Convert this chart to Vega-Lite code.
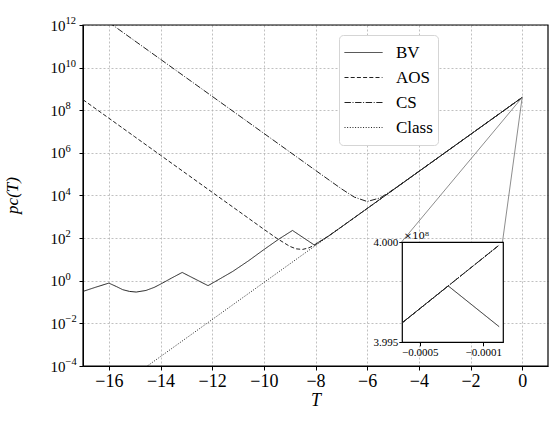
{
  "$schema": "https://vega.github.io/schema/vega-lite/v6.json",
  "width": 465,
  "height": 341,
  "autosize": {"type": "none"},
  "padding": {"left": 83, "top": 25, "right": 11, "bottom": 58},
  "background": "white",
  "config": {
    "view": {"stroke": null},
    "font": "Liberation Serif",
    "axis": {"domainColor": "black", "tickColor": "black", "labelColor": "black", "titleColor": "black", "labelFont": "Liberation Serif", "titleFont": "Liberation Serif", "titleFontWeight": "normal"}
  },
  "datasets": {
    "main": [
      {"series": "BV", "T": -17, "p": 0.316},
      {"series": "BV", "T": -16.5, "p": 0.501},
      {"series": "BV", "T": -16, "p": 0.776},
      {"series": "BV", "T": -15.71, "p": 0.537},
      {"series": "BV", "T": -15.46, "p": 0.38},
      {"series": "BV", "T": -15.2, "p": 0.316},
      {"series": "BV", "T": -14.94, "p": 0.295},
      {"series": "BV", "T": -14.56, "p": 0.351},
      {"series": "BV", "T": -14.24, "p": 0.49},
      {"series": "BV", "T": -13.97, "p": 0.724},
      {"series": "BV", "T": -13.58, "p": 1.318},
      {"series": "BV", "T": -13.16, "p": 2.455},
      {"series": "BV", "T": -12.66, "p": 1.2},
      {"series": "BV", "T": -12.16, "p": 0.589},
      {"series": "BV", "T": -11.9, "p": 0.891},
      {"series": "BV", "T": -11.6, "p": 1.445},
      {"series": "BV", "T": -11.2, "p": 2.754},
      {"series": "BV", "T": -10.6, "p": 8.51},
      {"series": "BV", "T": -10.0, "p": 28.8},
      {"series": "BV", "T": -9.4, "p": 93.3},
      {"series": "BV", "T": -8.89, "p": 229},
      {"series": "BV", "T": -8.05, "p": 47.9},
      {"series": "BV", "T": -7.5, "p": 124},
      {"series": "BV", "T": -7, "p": 333},
      {"series": "BV", "T": -6, "p": 2455},
      {"series": "BV", "T": -4, "p": 134300},
      {"series": "BV", "T": -2, "p": 7330000},
      {"series": "BV", "T": 0, "p": 400000000},
      {"series": "AOS", "T": -17, "p": 313000000},
      {"series": "AOS", "T": -16, "p": 42500000},
      {"series": "AOS", "T": -15, "p": 5740000},
      {"series": "AOS", "T": -14, "p": 776000},
      {"series": "AOS", "T": -13, "p": 105000},
      {"series": "AOS", "T": -12, "p": 14200},
      {"series": "AOS", "T": -11, "p": 1928},
      {"series": "AOS", "T": -10, "p": 261},
      {"series": "AOS", "T": -9.5, "p": 98.1},
      {"series": "AOS", "T": -9, "p": 41.3},
      {"series": "AOS", "T": -8.75, "p": 31.4},
      {"series": "AOS", "T": -8.5, "p": 29.5},
      {"series": "AOS", "T": -8.25, "p": 35.2},
      {"series": "AOS", "T": -8, "p": 49.7},
      {"series": "AOS", "T": -7.5, "p": 124.2},
      {"series": "AOS", "T": -7, "p": 333.3},
      {"series": "AOS", "T": -6, "p": 2455},
      {"series": "AOS", "T": -4, "p": 134300},
      {"series": "AOS", "T": -2, "p": 7330000},
      {"series": "AOS", "T": 0, "p": 400000000},
      {"series": "CS", "T": -17, "p": 9900000000000},
      {"series": "CS", "T": -16, "p": 1340000000000},
      {"series": "CS", "T": -14, "p": 24600000000},
      {"series": "CS", "T": -12, "p": 450000000},
      {"series": "CS", "T": -10, "p": 8240000},
      {"series": "CS", "T": -8, "p": 151000},
      {"series": "CS", "T": -7, "p": 20700},
      {"series": "CS", "T": -6.5, "p": 8420},
      {"series": "CS", "T": -6, "p": 5222},
      {"series": "CS", "T": -5.5, "p": 7699},
      {"series": "CS", "T": -5, "p": 18529},
      {"series": "CS", "T": -4, "p": 134330},
      {"series": "CS", "T": -2, "p": 7330000},
      {"series": "CS", "T": 0, "p": 400000000},
      {"series": "Class", "T": -17, "p": 0.000000685},
      {"series": "Class", "T": -14, "p": 0.000277},
      {"series": "Class", "T": -12, "p": 0.0151},
      {"series": "Class", "T": -10, "p": 0.824},
      {"series": "Class", "T": -8, "p": 45.0},
      {"series": "Class", "T": -6, "p": 2455},
      {"series": "Class", "T": -4, "p": 134300},
      {"series": "Class", "T": -2, "p": 7330000},
      {"series": "Class", "T": 0, "p": 400000000}
    ],
    "connectors": [
      {"conn": "a", "T": 0, "p": 400000000},
      {"conn": "a", "T": -4.67, "p": 65.6},
      {"conn": "b", "T": 0, "p": 400000000},
      {"conn": "b", "T": -0.762, "p": 65.6}
    ],
    "expo": [
      {"v": 0.0001, "e": "−4"},
      {"v": 0.01, "e": "−2"},
      {"v": 1, "e": "0"},
      {"v": 100, "e": "2"},
      {"v": 10000, "e": "4"},
      {"v": 1000000, "e": "6"},
      {"v": 100000000, "e": "8"},
      {"v": 10000000000, "e": "10"},
      {"v": 1000000000000, "e": "12"}
    ],
    "inset": [
      {"series": "BV", "T": -0.00061, "p": 399598000},
      {"series": "BV", "T": -0.000321, "p": 399782000},
      {"series": "BV", "T": 0, "p": 399578000},
      {"series": "AOS", "T": -0.00061, "p": 399598000},
      {"series": "AOS", "T": 0, "p": 399986000},
      {"series": "CS", "T": -0.00061, "p": 399598000},
      {"series": "CS", "T": 0, "p": 399986000},
      {"series": "Class", "T": -0.00061, "p": 399598000},
      {"series": "Class", "T": 0, "p": 399986000}
    ]
  },
  "layer": [
    {
      "layer": [
        {
          "data": {"name": "main"},
          "mark": {"type": "line", "clip": true, "strokeWidth": 1, "color": "#222"},
          "encoding": {
            "x": {"field": "T", "type": "quantitative",
              "scale": {"domain": [-17, 1], "nice": false, "zero": false},
              "axis": {"values": [-16, -14, -12, -10, -8, -6, -4, -2, 0], "orient": "bottom", "labelFontSize": 18, "tickSize": 4, "labelPadding": 2, "grid": true, "gridColor": "#b0b0b0", "gridDash": [2, 2], "gridWidth": 0.8, "title": "T", "titleFontStyle": "italic", "titleFontSize": 18, "titlePadding": 1}},
            "y": {"field": "p", "type": "quantitative",
              "scale": {"type": "log", "domain": [0.0001, 1000000000000], "nice": false},
              "axis": {"values": [0.0001, 0.01, 1, 100, 10000, 1000000, 100000000, 10000000000, 1000000000000], "orient": "left",
                "labelExpr": "'10'",
                "labelFontSize": 15, "tickSize": 4, "labelPadding": 14, "grid": true, "gridColor": "#b0b0b0", "gridDash": [2, 2], "gridWidth": 0.8,
                "title": "pc(T)", "titleFontStyle": "italic", "titleFontSize": 17, "titleX": -71, "titleY": 170, "titleAngle": -90, "titleBaseline": "middle", "titleAlign": "center"}},
            "strokeDash": {"field": "series", "type": "nominal",
              "scale": {"domain": ["BV", "AOS", "CS", "Class"], "range": [[1, 0], [4, 2.2], [6.4, 1.6, 1, 1.6], [1, 1.65]]},
              "legend": {"title": null, "orient": "none", "legendX": 256, "legendY": 10, "symbolType": "stroke", "symbolSize": 1444, "symbolStrokeWidth": 1, "symbolStrokeColor": "#222", "labelFontSize": 17, "labelFont": "Liberation Serif", "labelColor": "black", "labelOffset": 13, "clipHeight": 25, "rowPadding": 0, "padding": 5, "fillColor": "white", "strokeColor": "#d5d5d5", "cornerRadius": 4}}
          }
        },
        {
          "data": {"name": "connectors"},
          "mark": {"type": "line", "strokeWidth": 0.9, "color": "#808080"},
          "encoding": {
            "x": {"field": "T", "type": "quantitative"},
            "y": {"field": "p", "type": "quantitative"},
            "detail": {"field": "conn", "type": "nominal"}
          }
        },
        {
          "data": {"name": "expo"},
          "mark": {"type": "text", "align": "left", "baseline": "middle", "dx": -17.5, "dy": -4, "fontSize": 10.5, "font": "Liberation Serif", "color": "black", "clip": false},
          "encoding": {
            "x": {"datum": -17, "type": "quantitative"},
            "y": {"field": "v", "type": "quantitative"},
            "text": {"field": "e", "type": "nominal"}
          }
        },
        {
          "data": {"values": [{}]},
          "mark": {"type": "rect", "fill": null, "stroke": "black", "strokeWidth": 1.2},
          "encoding": {
            "x": {"datum": -17, "type": "quantitative"},
            "x2": {"datum": 1},
            "y": {"datum": 0.0001, "type": "quantitative"},
            "y2": {"datum": 1000000000000}
          }
        }
      ]
    },
    {
      "layer": [
        {
          "data": {"values": [{}]},
          "mark": {"type": "rect", "fill": "white", "stroke": "black", "strokeWidth": 1.2},
          "encoding": {
            "x": {"datum": -0.00061, "type": "quantitative",
              "scale": {"domain": [-0.00061, 0.000026], "range": [319.3, 420.3], "nice": false, "zero": false},
              "axis": {"values": [-0.0005, -0.0001], "format": ".4f", "orient": "bottom", "offset": -23.7, "domain": false, "grid": false, "tickSize": 3.5, "labelFontSize": 11, "labelPadding": 1, "title": null, "zindex": 1}},
            "x2": {"datum": 0.000026},
            "y": {"datum": 399500000, "type": "quantitative",
              "scale": {"domain": [399500000, 400000000], "range": [317.3, 217.3], "nice": false, "zero": false},
              "axis": {"values": [399500000, 400000000], "labelExpr": "format(datum.value / 1e8, '.3f')", "orient": "left", "offset": -319.3, "domain": false, "grid": false, "tickSize": 3.5, "labelFontSize": 11, "labelPadding": 1, "title": "×10⁸", "titleFont": "DejaVu Serif", "titleAngle": 0, "titleX": 1, "titleY": 213, "titleAlign": "left", "titleBaseline": "alphabetic", "titleFontSize": 10, "zindex": 1}},
            "y2": {"datum": 400000000}
          }
        },
        {
          "data": {"name": "inset"},
          "mark": {"type": "line", "strokeWidth": 1, "color": "#222"},
          "encoding": {
            "x": {"field": "T", "type": "quantitative"},
            "y": {"field": "p", "type": "quantitative"},
            "strokeDash": {"field": "series", "type": "nominal"}
          }
        }
      ]
    }
  ],
  "resolve": {
    "scale": {"x": "independent", "y": "independent"},
    "axis": {"x": "independent", "y": "independent"}
  }
}
